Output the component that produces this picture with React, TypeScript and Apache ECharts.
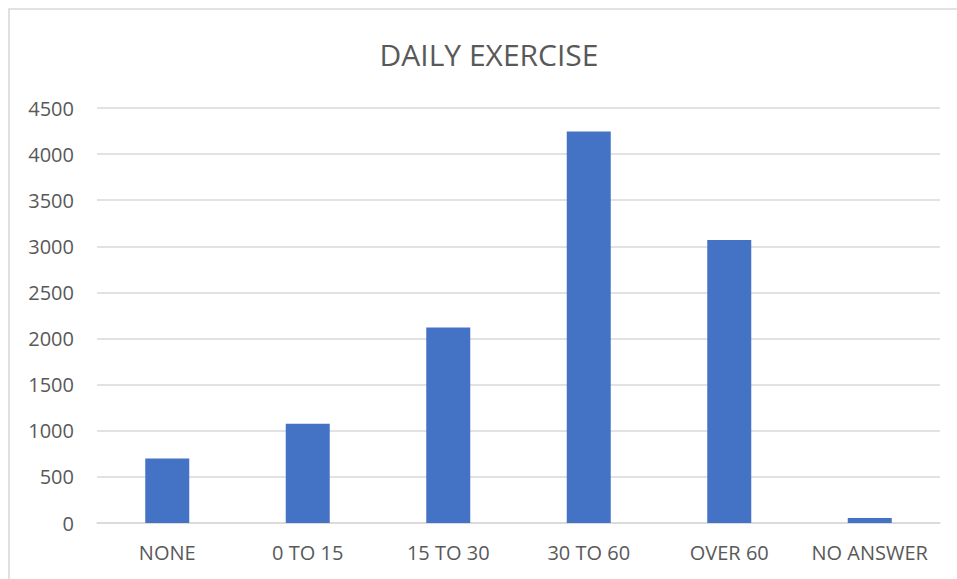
import React, { useEffect, useRef } from "react";
import * as echarts from "echarts";

const categories = ["NONE", "0 TO 15", "15 TO 30", "30 TO 60", "OVER 60", "NO ANSWER"];
const values = [700, 1075, 2120, 4245, 3070, 55];
const titleText = "DAILY EXERCISE";

export default function App() {
  const ref = useRef<HTMLDivElement>(null);
  useEffect(() => {
    if (!ref.current) return;
    const chart = echarts.init(ref.current, undefined, { renderer: "svg" });
    const font = "'Open Sans', 'Noto Sans', sans-serif";
    chart.setOption({
      animation: false,
      backgroundColor: "#ffffff",
      textStyle: { fontFamily: font },
      graphic: [
        {
          type: "rect",
          shape: { x: 9, y: 9, width: 1200, height: 1200 },
          style: { fill: "none", stroke: "#d9d9d9", lineWidth: 1.6 },
          silent: true,
        },
        {
          type: "text",
          x: 489,
          y: 54,
          style: {
            text: titleText,
            fill: "#595959",
            font: `30px ${font}`,
            textAlign: "center",
            textVerticalAlign: "middle",
          },
        },
      ],
      grid: { left: 97, right: 17, top: 108, bottom: 56, containLabel: false },
      xAxis: {
        type: "category",
        data: categories,
        axisLine: { show: true, lineStyle: { color: "#d9d9d9", width: 1.5 } },
        axisTick: { show: false },
        axisLabel: {
          color: "#595959",
          fontSize: 20,
          margin: 19,
          fontFamily: font,
          interval: 0,
          hideOverlap: false,
        },
      },
      yAxis: {
        type: "value",
        min: 0,
        max: 4500,
        interval: 500,
        axisLine: { show: false },
        axisTick: { show: false },
        splitLine: { lineStyle: { color: "#d9d9d9", width: 1.5 } },
        axisLabel: {
          color: "#595959",
          fontSize: 20,
          margin: 23,
          fontFamily: font,
          formatter: (v: number) => String(v),
        },
      },
      series: [
        {
          type: "bar",
          data: values,
          barWidth: 44,
          itemStyle: { color: "#4472c4" },
        },
      ],
    });
    return () => chart.dispose();
  }, []);
  return (
    <div
      ref={ref}
      style={{ position: "fixed", left: 0, top: 0, width: 957, height: 579 }}
    />
  );
}
